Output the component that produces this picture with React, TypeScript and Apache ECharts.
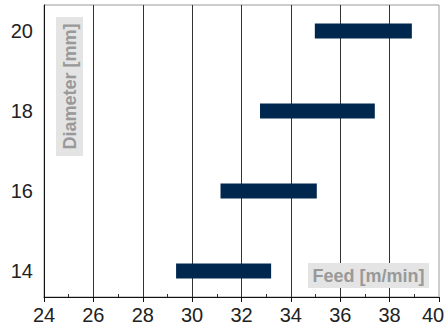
import React, { useEffect, useRef } from "react";
import * as echarts from "echarts";

const diameters = [14, 16, 18, 20];
const feedMin = [29.35, 31.15, 32.75, 34.97];
const feedMax = [33.2, 35.05, 37.4, 38.9];
const xTicks = [24, 26, 28, 30, 32, 34, 36, 38, 40];
const xMinorTicks = [25, 27, 29, 31, 33, 35, 37, 39];
const yLabels = [14, 16, 18, 20];

export default function App() {
  const ref = useRef<HTMLDivElement>(null);
  useEffect(() => {
    if (!ref.current) return;
    const chart = echarts.init(ref.current, null, { renderer: "svg" });
    const data = diameters.map((d, i) => [feedMin[i], feedMax[i], d]);
    const font = "'Liberation Sans', Arial, Helvetica, sans-serif";
    const xMax = xTicks[xTicks.length - 1];
    chart.setOption({
      animation: false,
      grid: {
        left: 44,
        right: 8,
        top: 5,
        bottom: 31,
        outerBoundsMode: "none",
        containLabel: false,
        show: true,
        borderColor: "#9a9a9a",
        borderWidth: 1,
      },
      xAxis: [
        {
          type: "value",
          position: "bottom",
          min: xTicks[0],
          max: xMax,
          interval: 2,
          axisLine: { show: true, lineStyle: { color: "#111", width: 1 } },
          axisTick: { show: true, inside: false, length: 5, lineStyle: { color: "#111" } },
          axisLabel: {
            color: "#222",
            fontSize: 20,
            fontFamily: font,
            margin: 8,
            showMinLabel: true,
            showMaxLabel: true,
            formatter: (v: number) => (v === xMax ? `{m|${v}}` : `${v}`),
            rich: {
              m: {
                color: "#222",
                fontSize: 20,
                fontFamily: font,
                padding: [0, 12, 0, 0],
              },
            },
          },
          splitLine: {
            show: true,
            showMinLine: false,
            showMaxLine: false,
            lineStyle: { color: "#333", width: 1 },
          },
        },
        {
          type: "value",
          position: "bottom",
          offset: 0,
          min: xTicks[0],
          max: xMax,
          axisLine: { show: false },
          axisTick: {
            show: true,
            inside: true,
            length: 3,
            customValues: xMinorTicks,
            lineStyle: { color: "#333" },
          },
          axisLabel: { show: false },
          splitLine: { show: false },
        },
      ],
      yAxis: {
        type: "value",
        min: 13.35,
        max: 20.65,
        axisLine: { show: true, lineStyle: { color: "#111", width: 1 } },
        axisTick: { show: false },
        axisLabel: {
          color: "#222",
          fontSize: 20,
          fontFamily: font,
          margin: 11,
          customValues: yLabels,
        },
        splitLine: { show: false },
      },
      series: [
        {
          type: "custom",
          xAxisIndex: 0,
          yAxisIndex: 0,
          data,
          encode: { x: [0, 1], y: 2 },
          renderItem: (params: any, api: any) => {
            const s = api.coord([api.value(0), api.value(2)]);
            const e = api.coord([api.value(1), api.value(2)]);
            const h = 15;
            return {
              type: "rect",
              shape: { x: s[0], y: s[1] - h / 2, width: e[0] - s[0], height: h },
              style: { fill: "#00284f" },
            };
          },
        },
      ],
      graphic: [
        {
          type: "rect",
          shape: { x: 56, y: 17, width: 27, height: 139 },
          style: { fill: "#e4e4e4" },
          z: 10,
        },
        {
          type: "text",
          x: 70,
          y: 86.5,
          rotation: Math.PI / 2,
          style: {
            text: "Diameter [mm]",
            fill: "#999",
            font: `bold 18px ${font}`,
            align: "center",
            verticalAlign: "middle",
          },
          z: 11,
        },
        {
          type: "rect",
          shape: { x: 308, y: 263, width: 121, height: 25 },
          style: { fill: "#e4e4e4" },
          z: 10,
        },
        {
          type: "text",
          x: 368.5,
          y: 275.5,
          style: {
            text: "Feed [m/min]",
            fill: "#999",
            font: `bold 18px ${font}`,
            align: "center",
            verticalAlign: "middle",
          },
          z: 11,
        },
      ],
    });
    return () => chart.dispose();
  }, []);
  return (
    <div
      ref={ref}
      style={{ position: "absolute", left: 0, top: 0, width: 447, height: 328, background: "#fff" }}
    />
  );
}
